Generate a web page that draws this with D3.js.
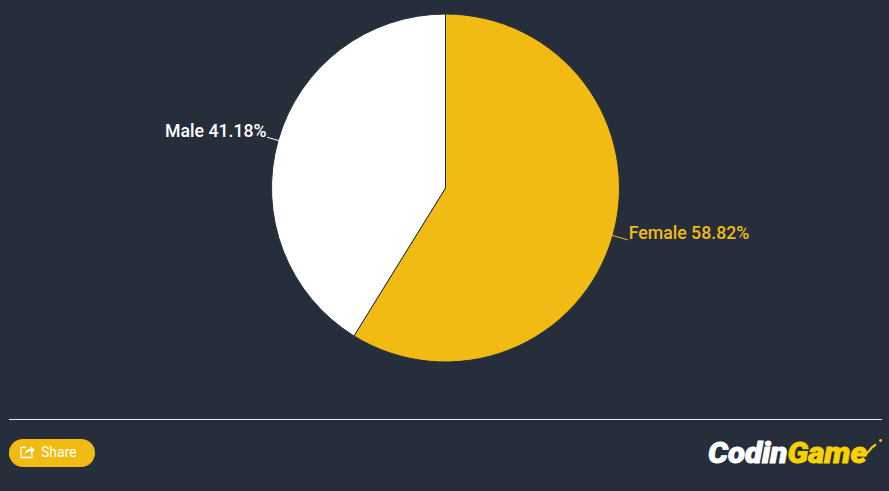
<!DOCTYPE html>
<html>
<head>
<meta charset="utf-8">
<script src="https://cdn.jsdelivr.net/npm/d3@7"></script>
<style>
html,body{margin:0;padding:0;background:#252e3a;overflow:hidden}
svg{display:block}
text{font-family:Roboto,sans-serif}
</style>
</head>
<body>
<svg id="c" width="889" height="491"></svg>
<script>
const categories = ["Female", "Male"];
const shares = [58.82, 41.18];
const colors = ["#f2bb13", "#ffffff"];
const labelFills = ["#f2bb13", "#ffffff"];
const labelWeights = [500, 500];

const svg = d3.select("#c");
const cx = 445.5, cy = 188, r = 174;
const g = svg.append("g").attr("transform", `translate(${cx},${cy})`);
const pie = d3.pie().sort(null).value(d => d.v);
const table = categories.map((c, i) => ({c, v: shares[i], i}));
const arcs = pie(table);
const arc = d3.arc().innerRadius(0).outerRadius(r);
g.selectAll("path.s").data(arcs).join("path").attr("class", "s")
  .attr("d", arc).attr("fill", d => colors[d.data.i])
  .attr("stroke", "#252e3a").attr("stroke-width", 1).attr("stroke-linejoin", "round");

const polar = (a, rad) => [Math.sin(a) * rad, -Math.cos(a) * rad];
arcs.forEach(d => {
  const a = (d.startAngle + d.endAngle) / 2, right = Math.sin(a) > 0;
  const [x0, y0] = polar(a, r - 1.5);
  const [x1, y1] = polar(a, r + (right ? 15.5 : 11.5));
  g.append("path").attr("d", `M${x0},${y0}L${x1},${y1}`)
    .attr("fill", "none").attr("stroke", colors[d.data.i]).attr("stroke-width", 1);
  g.append("text").attr("x", x1 + (right ? 1 : -0.5)).attr("y", y1 - 0.5)
    .attr("text-anchor", right ? "start" : "end")
    .attr("font-size", 17.7).attr("font-weight", labelWeights[d.data.i])
    .attr("fill", labelFills[d.data.i])
    .text(`${d.data.c} ${d3.format(".2f")(d.data.v)}%`);
});

// footer rule
svg.append("line").attr("x1", 9).attr("x2", 882).attr("y1", 419.5).attr("y2", 419.5)
  .attr("stroke", "#e8ebee").attr("stroke-width", 1);

// share button
svg.append("rect").attr("x", 9).attr("y", 439).attr("width", 86).attr("height", 28).attr("rx", 14)
  .attr("fill", "#f2bb13");
svg.append("path").attr("d", "M26 447.5h-5v10h11v-4")
  .attr("fill", "none").attr("stroke", "#fff").attr("stroke-width", 1.3);
svg.append("path").attr("d", "M25 454c0.5-3.5 2.5-5 6-5v-2.8l3.5 4-3.5 3.6v-2.8c-2.5 0-4.5 1-6 3z")
  .attr("fill", "#fff").attr("stroke", "#fff").attr("stroke-width", .4);
svg.append("text").attr("x", 41).attr("y", 457).attr("font-size", 14).attr("fill", "#fff").text("Share");

// logo
const logo = svg.append("text").attr("x", 708).attr("y", 463)
  .attr("font-size", 29).attr("font-weight", 900).attr("stroke-width", 0.9)
  .attr("font-style", "italic").attr("textLength", 159).attr("lengthAdjust", "spacingAndGlyphs");
logo.append("tspan").attr("fill", "#fff").attr("stroke", "#fff").text("Codin");
logo.append("tspan").attr("fill", "#f7d100").attr("stroke", "#f7d100").text("Game");
svg.append("path").attr("d", "M864 456C869 452 871 447 876 444.5")
  .attr("fill", "none").attr("stroke", "#f7d100").attr("stroke-width", 2);
svg.append("circle").attr("cx", 880.5).attr("cy", 440.5).attr("r", 1.4).attr("fill", "#f7d100");
</script>
</body>
</html>
